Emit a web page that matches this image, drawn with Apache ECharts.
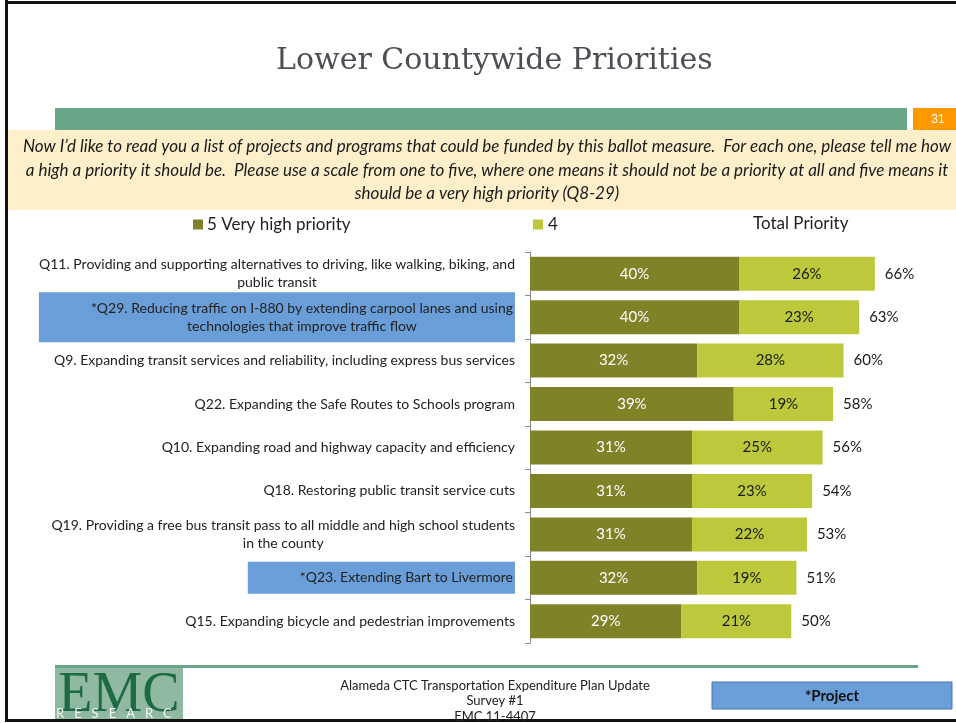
<!DOCTYPE html>
<html>
<head>
<meta charset="utf-8">
<script src="https://cdn.jsdelivr.net/npm/echarts@6/dist/echarts.min.js"></script>
<style>html,body{margin:0;padding:0;background:#fff;}#c{width:956px;height:723px;}</style>
</head>
<body>
<div id="c"></div>
<script>
var categories = [
  'Q11. Providing and supporting alternatives to driving, like walking, biking, and\npublic transit',
  '*Q29. Reducing traffic on I-880 by extending carpool lanes and using\ntechnologies that improve traffic flow',
  'Q9. Expanding transit services and reliability, including express bus services',
  'Q22. Expanding the Safe Routes to Schools program',
  'Q10. Expanding road and highway capacity and efficiency',
  'Q18. Restoring public transit service cuts',
  'Q19. Providing a free bus transit pass to all middle and high school students\nin the county',
  '*Q23. Extending Bart to Livermore',
  'Q15. Expanding bicycle and pedestrian improvements'
];
var projectFlags = [false, true, false, false, false, false, false, true, false];
var veryHigh = [40, 40, 32, 39, 31, 31, 31, 32, 29];
var high4 = [26, 23, 28, 19, 25, 23, 22, 19, 21];
var totalPriority = [66, 63, 60, 58, 56, 54, 53, 51, 50];
var seriesNames = ['5 Very high priority', '4', 'Total Priority'];

var FONT = 'Lato';
var chart = echarts.init(document.getElementById('c'));

var yData = categories.map(function (c, i) {
  var item = { value: c };
  if (projectFlags[i]) {
    item.textStyle = { backgroundColor: '#6a9ed8', padding: [7, 2, 7, 52] };
  }
  return item;
});

chart.setOption({
  animation: false,
  title: {
    text: 'Lower Countywide Priorities',
    left: 271,
    top: 41,
    textStyle: { fontFamily: 'DejaVu Serif', fontWeight: 'normal', fontSize: 30, color: '#4d4d55' }
  },
  legend: [
    { data: [seriesNames[0]], left: 193, top: 216, padding: 0, icon: 'rect', itemWidth: 10, itemHeight: 10, itemGap: 4,
      textStyle: { fontFamily: FONT, fontSize: 17, color: '#222', padding: [0, 0, 0, -1] } },
    { data: [seriesNames[1]], left: 533, top: 216, padding: 0, icon: 'rect', itemWidth: 10, itemHeight: 10, itemGap: 4,
      textStyle: { fontFamily: FONT, fontSize: 17, color: '#222' } }
  ],
  grid: { left: 530, top: 252, width: 418, height: 391, containLabel: false },
  xAxis: { type: 'value', min: 0, max: 80, show: false },
  yAxis: {
    type: 'category',
    inverse: true,
    data: yData,
    axisLine: { show: true, lineStyle: { color: '#8a8a8a', width: 1 } },
    axisTick: { show: true, length: 5, lineStyle: { color: '#8a8a8a' } },
    axisLabel: {
      margin: 15,
      fontFamily: FONT,
      fontSize: 14,
      color: '#222',
      lineHeight: 18,
      formatter: function (v) {
        return v.split('\n').map(function (l) { return '{c|' + l + '}'; }).join('\n');
      },
      rich: { c: { align: 'center', fontFamily: FONT, fontSize: 14, color: '#222', lineHeight: 18 } }
    }
  },
  series: [
    {
      name: seriesNames[0], type: 'bar', stack: 'a', data: veryHigh, barWidth: 34,
      itemStyle: { color: '#808228' },
      label: { show: true, position: 'inside', color: '#fff', fontFamily: FONT, fontSize: 15, formatter: '{c}%' }
    },
    {
      name: seriesNames[1], type: 'bar', stack: 'a', data: high4, barWidth: 34,
      itemStyle: { color: '#bdc83b' },
      label: { show: true, position: 'inside', color: '#1a1a1a', fontFamily: FONT, fontSize: 15, formatter: '{c}%' }
    },
    {
      name: seriesNames[2], type: 'bar', data: totalPriority, barWidth: 34, barGap: '-100%',
      itemStyle: { color: 'rgba(0,0,0,0)' }, silent: true, z: 1,
      label: { show: true, position: 'right', distance: 10, color: '#1a1a1a', fontFamily: FONT, fontSize: 15, formatter: '{c}%' }
    }
  ],
  graphic: [
    { type: 'rect', shape: { x: 5, y: 0, width: 3, height: 722 }, style: { fill: '#111' } },
    { type: 'rect', shape: { x: 5, y: 1, width: 951, height: 3 }, style: { fill: '#111' } },
    { type: 'rect', shape: { x: 5, y: 719, width: 951, height: 3 }, style: { fill: '#111' } },
    { type: 'rect', shape: { x: 55, y: 108, width: 852, height: 22 }, style: { fill: '#69a687' } },
    { type: 'rect', shape: { x: 913, y: 108, width: 43, height: 22 }, style: { fill: '#ff9900' } },
    { type: 'text', x: 938, y: 120, style: { text: '31', fill: '#fff', font: '12px Arial', textAlign: 'center', textVerticalAlign: 'middle' } },
    { type: 'rect', shape: { x: 8, y: 130, width: 948, height: 80 }, style: { fill: '#fdefca' } },
    { type: 'text', x: 487, y: 135, style: {
      text: 'Now I\u2019d like to read you a list of projects and programs that could be funded by this ballot measure.  For each one, please tell me how\na high a priority it should be.  Please use a scale from one to five, where one means it should not be a priority at all and five means it\nshould be a very high priority (Q8-29)',
      fill: '#1a1a1a', font: 'italic 17px Lato', textAlign: 'center', lineHeight: 23.5 } },
    { type: 'text', x: 753, y: 215, style: { text: 'Total Priority', fill: '#222', font: '17px Lato' } },
    { type: 'rect', shape: { x: 55, y: 665, width: 863, height: 3 }, style: { fill: '#69a687' } },
    { type: 'rect', shape: { x: 55, y: 668, width: 128, height: 51 }, style: { fill: '#8fb9a0' } },
    { type: 'text', x: 119, y: 668, style: { text: 'EMC', fill: '#1d6a44', font: '56px "Liberation Serif"', textAlign: 'center' } },
    { type: 'text', x: 56, y: 707, style: { text: 'R   E   S   E   A   R   C   H', fill: '#f4f4f4', font: '13px Lato' } },
    { type: 'text', x: 495, y: 678, style: {
      text: 'Alameda CTC Transportation Expenditure Plan Update\nSurvey #1\nEMC 11-4407',
      fill: '#222', font: '13px Lato', textAlign: 'center', lineHeight: 15.5 } },
    { type: 'rect', shape: { x: 712, y: 682, width: 240, height: 27 }, style: { fill: '#6a9ed8', stroke: '#4a72a8', lineWidth: 1 } },
    { type: 'text', x: 832, y: 696, style: { text: '*Project', fill: '#111', font: 'bold 15px Lato', textAlign: 'center', textVerticalAlign: 'middle' } }
  ]
});
</script>
</body>
</html>
